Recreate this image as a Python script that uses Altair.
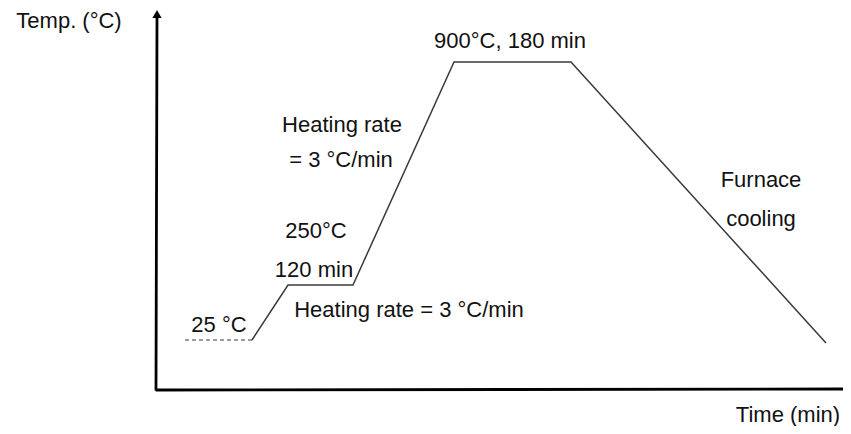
import altair as alt
import pandas as pd

# Schematic heat-treatment profile (schematic time / temperature units)
profile_time = [95, 131, 196, 297, 414, 669]
profile_temp = [49, 104, 104, 327, 327, 46]

# Initial room-temperature segment (dashed)
start_time = [28, 95]
start_temp = [49, 49]

# Annotations (centre x, baseline y)
labels = ["Temp. (°C)", "Time (min)", "900°C, 180 min", "Heating rate", "= 3 °C/min",
          "250°C", "120 min", "25 °C", "Heating rate = 3 °C/min", "Furnace", "cooling"]
label_x = [-88, 631, 353, 185, 184, 159, 157, 62, 252, 604, 604]
label_y = [361, -33, 341, 257, 222, 151, 112, 57, 72, 202, 163]

# Axis lines with arrow heads
axis_x = [-1, 0]
axis_y = [0, -1]
axis_x2 = [0, 690]
axis_y2 = [370, 0]
arrow_x = [0, 690]
arrow_y = [375, 0]
arrow_shape = ["triangle-up", "triangle-right"]

W, H = 686, 379
xs = alt.Scale(domain=[0, W], nice=False, zero=False)
ys = alt.Scale(domain=[0, H], nice=False, zero=False)

prof = pd.DataFrame({"t": profile_time, "T": profile_temp, "o": range(len(profile_time))})
start = pd.DataFrame({"t": start_time, "T": start_temp})
lab = pd.DataFrame({"label": labels, "x": label_x, "y": label_y})
axes = pd.DataFrame({"x": axis_x, "y": axis_y, "x2": axis_x2, "y2": axis_y2})

line = alt.Chart(prof).mark_line(color="#3a3a3a", strokeWidth=1.5).encode(
    x=alt.X("t:Q", scale=xs, axis=None),
    y=alt.Y("T:Q", scale=ys, axis=None),
    order="o:Q",
)

dashed = alt.Chart(start).mark_line(color="#3a3a3a", strokeWidth=1.2, strokeDash=[4, 3]).encode(
    x=alt.X("t:Q", scale=xs, axis=None),
    y=alt.Y("T:Q", scale=ys, axis=None),
)

axis_rules = alt.Chart(axes).mark_rule(color="black", strokeWidth=2.8, strokeCap="square").encode(
    x=alt.X("x:Q", scale=xs, axis=None),
    y=alt.Y("y:Q", scale=ys, axis=None),
    x2="x2:Q",
    y2="y2:Q",
)

arrows = []
for ax, ay, sh in zip(arrow_x, arrow_y, arrow_shape):
    arrows.append(
        alt.Chart(pd.DataFrame({"x": [ax], "y": [ay]})).mark_point(
            shape=sh, filled=True, color="black", size=85, opacity=1
        ).encode(
            x=alt.X("x:Q", scale=xs, axis=None),
            y=alt.Y("y:Q", scale=ys, axis=None),
        )
    )

text = alt.Chart(lab).mark_text(
    align="center", baseline="alphabetic", font="Liberation Sans", fontSize=22, color="#111111"
).encode(
    x=alt.X("x:Q", scale=xs, axis=None),
    y=alt.Y("y:Q", scale=ys, axis=None),
    text="label:N",
)

chart = alt.layer(axis_rules, dashed, line, *arrows, text).properties(
    width=W, height=H,
    padding={"left": 149, "top": 2, "right": 0, "bottom": 37},
    autosize=alt.AutoSizeParams(type="none"),
).configure_view(stroke=None)

chart.save("out.html", embed_options={"renderer": "svg", "actions": False})
